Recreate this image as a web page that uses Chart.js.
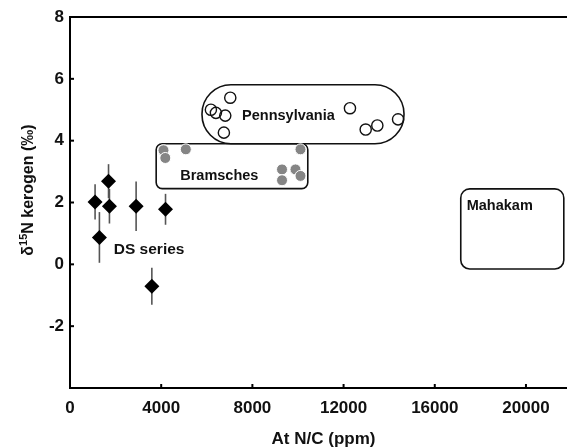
<!DOCTYPE html>
<html><head><meta charset="utf-8">
<script src="https://cdn.jsdelivr.net/npm/chart.js@4/dist/chart.umd.min.js"></script>
<style>html,body{margin:0;padding:0;background:#fff;overflow:hidden}#wrap{width:567px;height:447px}</style>
</head><body><div id="wrap"><canvas id="c"></canvas></div>
<script>
// ---- data ----
const dsX = [1100, 1690, 1730, 1290, 2900, 4190, 3590];
const dsY = [2.02, 2.69, 1.88, 0.87, 1.88, 1.78, -0.71];
const dsErr = [0.57, 0.55, 0.56, 0.82, 0.8, 0.5, 0.6];
const pennX = [6180, 6400, 7030, 6810, 6750, 12280, 12970, 13480, 14390];
const pennY = [5.0, 4.9, 5.39, 4.81, 4.26, 5.05, 4.36, 4.49, 4.69];
const bramX = [4100, 4180, 5080, 10110, 9300, 9300, 9890, 10110];
const bramY = [3.69, 3.44, 3.72, 3.72, 3.07, 2.72, 3.07, 2.86];
const xTicks = [0, 4000, 8000, 12000, 16000, 20000];
const yTicks = [-2, 0, 2, 4, 6, 8];
const boxX0 = [5790, 3780, 17140];
const boxX1 = [14650, 10430, 21660];
const boxY0 = [3.9, 2.45, -0.15];
const boxY1 = [5.81, 3.9, 2.44];
const labelText = ['Pennsylvania', 'Bramsches', 'Mahakam', 'DS series'];
const labelX = [9580, 6550, 17400, 3470];
const labelY = [4.81, 2.87, 1.9, 0.48];
const xTitle = 'At N/C (ppm)';

const FONT = '"Liberation Sans", Arial, Helvetica, sans-serif';

function rrect(ctx, x0, y0, x1, y1, r) {
  const w = x1 - x0, h = y1 - y0;
  r = Math.min(r, w / 2, h / 2);
  ctx.beginPath();
  ctx.moveTo(x0 + r, y0);
  ctx.lineTo(x1 - r, y0);
  ctx.arcTo(x1, y0, x1, y0 + r, r);
  ctx.lineTo(x1, y1 - r);
  ctx.arcTo(x1, y1, x1 - r, y1, r);
  ctx.lineTo(x0 + r, y1);
  ctx.arcTo(x0, y1, x0, y1 - r, r);
  ctx.lineTo(x0, y0 + r);
  ctx.arcTo(x0, y0, x0 + r, y0, r);
  ctx.closePath();
}

const decor = {
  id: 'decor',
  beforeDatasetsDraw(chart) {
    const {ctx, scales: {x, y}, chartArea: ca} = chart;
    ctx.save();
    // boxes
    const radii = [29, 6, 9];
    ctx.strokeStyle = '#111';
    ctx.lineWidth = 1.6;
    for (let i = 0; i < boxX0.length; i++) {
      const px0 = x.getPixelForValue(boxX0[i]), px1 = x.getPixelForValue(boxX1[i]);
      const py0 = y.getPixelForValue(boxY1[i]), py1 = y.getPixelForValue(boxY0[i]);
      rrect(ctx, px0, py0, px1, py1, radii[i]);
      ctx.stroke();
    }
    // error bars
    ctx.strokeStyle = '#555';
    ctx.lineWidth = 1.6;
    for (let i = 0; i < dsX.length; i++) {
      const px = x.getPixelForValue(dsX[i]);
      ctx.beginPath();
      ctx.moveTo(px, y.getPixelForValue(dsY[i] + dsErr[i]));
      ctx.lineTo(px, y.getPixelForValue(dsY[i] - dsErr[i]));
      ctx.stroke();
    }
    // labels
    ctx.fillStyle = '#111';
    ctx.textBaseline = 'middle';
    const sizes = [14.5, 14.5, 14.5, 15.5];
    const aligns = ['center', 'center', 'left', 'center'];
    for (let i = 0; i < labelText.length; i++) {
      ctx.font = 'bold ' + sizes[i] + 'px ' + FONT;
      ctx.textAlign = aligns[i];
      ctx.fillText(labelText[i], x.getPixelForValue(labelX[i]), y.getPixelForValue(labelY[i]));
    }
    // top frame line
    ctx.strokeStyle = '#000';
    ctx.lineWidth = 2;
    ctx.beginPath();
    ctx.moveTo(ca.left, ca.top);
    ctx.lineTo(ca.right, ca.top);
    ctx.stroke();
    // inward tick marks
    ctx.lineWidth = 2;
    xTicks.forEach(v => {
      const px = x.getPixelForValue(v);
      ctx.beginPath(); ctx.moveTo(px, ca.bottom); ctx.lineTo(px, ca.bottom - 4); ctx.stroke();
    });
    yTicks.forEach(v => {
      const py = y.getPixelForValue(v);
      ctx.beginPath(); ctx.moveTo(ca.left, py); ctx.lineTo(ca.left + 4, py); ctx.stroke();
    });
    ctx.restore();
  },
  afterDraw(chart) {
    const {ctx, chartArea: ca} = chart;
    ctx.save();
    ctx.fillStyle = '#111';
    // x title
    ctx.font = 'bold 17px ' + FONT;
    ctx.textAlign = 'center';
    ctx.textBaseline = 'middle';
    ctx.fillText(xTitle, (ca.left + ca.right) / 2 + 5, 439);
    // y title with superscript
    const big = 'bold 16px ' + FONT, small = 'bold 11px ' + FONT;
    const parts = [['\u03B4', big, 0], ['15', small, -6], ['N kerogen (\u2030)', big, 0]];
    let total = 0;
    parts.forEach(p => { ctx.font = p[1]; total += ctx.measureText(p[0]).width; });
    ctx.translate(27, 190);
    ctx.rotate(-Math.PI / 2);
    ctx.textAlign = 'left';
    ctx.textBaseline = 'alphabetic';
    let cx = -total / 2;
    parts.forEach(p => {
      ctx.font = p[1];
      ctx.fillText(p[0], cx, 6 + p[2]);
      cx += ctx.measureText(p[0]).width;
    });
    ctx.restore();
  }
};

new Chart(document.getElementById('c'), {
  type: 'scatter',
  data: {
    datasets: [
      {
        label: 'DS series',
        data: dsX.map((v, i) => ({x: v, y: dsY[i]})),
        pointStyle: 'rectRot', pointRadius: 7.5,
        backgroundColor: '#000', borderColor: '#000', borderWidth: 0
      },
      {
        label: 'Bramsches',
        data: bramX.map((v, i) => ({x: v, y: bramY[i]})),
        pointStyle: 'circle', pointRadius: 5.5,
        backgroundColor: '#858585', borderColor: '#fff', borderWidth: 1
      },
      {
        label: 'Pennsylvania',
        data: pennX.map((v, i) => ({x: v, y: pennY[i]})),
        pointStyle: 'circle', pointRadius: 5.6,
        backgroundColor: 'rgba(255,255,255,0)', borderColor: '#111', borderWidth: 1.4
      }
    ]
  },
  options: {
    responsive: true,
    maintainAspectRatio: false,
    animation: false,
    events: [],
    layout: {autoPadding: false, padding: {top: 17, left: 0, right: 0, bottom: 0}},
    plugins: {legend: {display: false}, tooltip: {enabled: false}},
    scales: {
      x: {
        type: 'linear', min: 0, max: 21800,
        afterBuildTicks: s => { s.ticks = xTicks.map(v => ({value: v})); },
        afterFit: s => { s.height = 59; },
        grid: {display: false, drawTicks: false},
        border: {display: true, color: '#000', width: 2},
        ticks: {color: '#111', padding: 10, maxRotation: 0, callback: v => String(v),
                font: {family: FONT, size: 17, weight: 'bold'}}
      },
      y: {
        type: 'linear', min: -4, max: 8,
        afterBuildTicks: s => { s.ticks = yTicks.map(v => ({value: v})); },
        afterFit: s => { s.width = 70; },
        grid: {display: false, drawTicks: false},
        border: {display: true, color: '#000', width: 2},
        ticks: {color: '#111', padding: 6, callback: v => String(v),
                font: {family: FONT, size: 17, weight: 'bold'}}
      }
    }
  },
  plugins: [decor]
});
</script>
</body></html>
